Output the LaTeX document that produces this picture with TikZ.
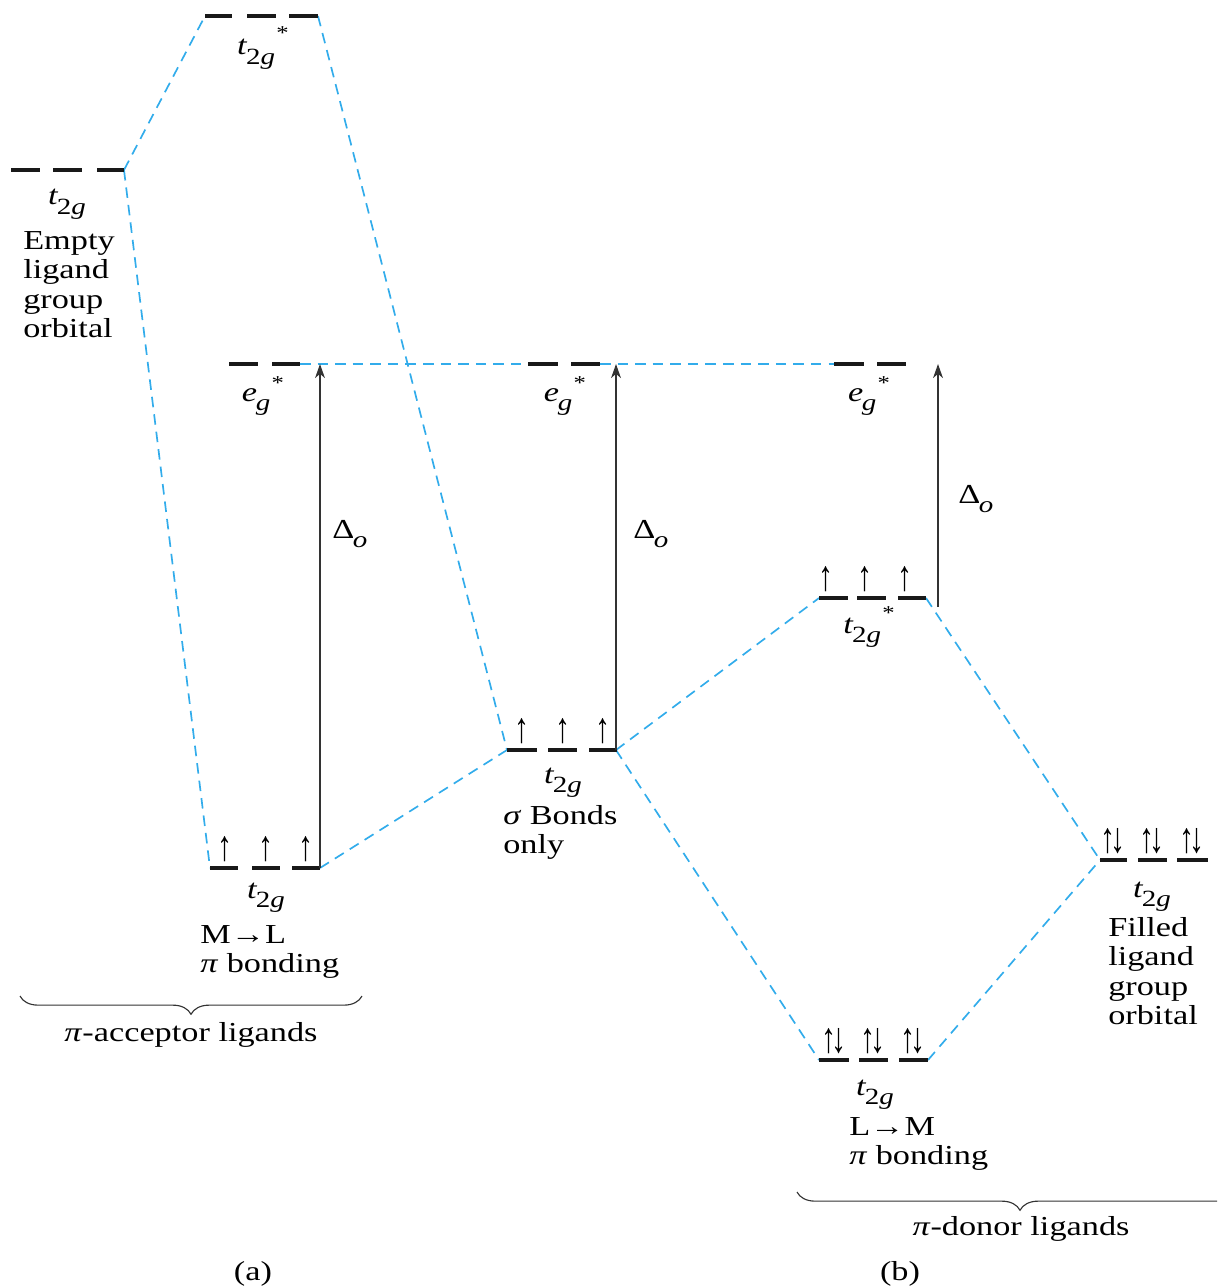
\documentclass[tikz,border=0pt]{standalone}
\usepackage{fontspec}
\setmainfont{Liberation Serif}[FakeStretch=1.25]
\usetikzlibrary{arrows.meta,decorations.pathreplacing}

\definecolor{lineblue}{RGB}{50,172,235}
\newcommand\tsub[1]{\kern-1pt\lower7pt\hbox{\fontsize{16.5}{16.5}\selectfont#1}}
\newcommand\ttwog{\textit{t}\tsub{2\textit{g}}}
\newcommand\egee{\textit{e}\tsub{\textit{g}}}
\newcommand\st[1]{\kern1pt\raisebox{#1}{\fontsize{14}{14}\selectfont*}}
\newcommand\upspin{\scalebox{0.9}[1.6]{↑}}
\newcommand\pairup{\scalebox{0.9}[1.6]{↑\kern-0.2em↓}}

\begin{document}
\begin{tikzpicture}[x=0.025cm,y=-0.025cm,
    every node/.style={inner sep=0pt,font=\fontsize{19.5}{21}\selectfont},
    level/.style={line width=2.2pt,black!90},
    link/.style={lineblue,line width=1.2pt,dash pattern=on 7.5pt off 5pt},
    gap/.style={-{Stealth[length=10pt,width=7pt,inset=3pt]},line width=1pt,black!80},
    spin/.style={anchor=south,font=\fontsize{19}{19}\selectfont},
    brace/.style={decorate,decoration={brace,mirror,amplitude=13pt},line width=0.8pt,black!80}]
  \useasboundingbox (0,0) rectangle (1217,1287);
  \clip (0,0) rectangle (1217,1287);

  % ends of the levels
  \coordinate (topL) at (205,16);   \coordinate (topR) at (318,16);
  \coordinate (ligR) at (124,170);
  \coordinate (egLr) at (300,364);  \coordinate (egMl) at (528,364);
  \coordinate (egMr) at (600,364);  \coordinate (egRl) at (834,364);
  \coordinate (mlL) at (210,868);   \coordinate (mlR) at (320,868);
  \coordinate (sgL) at (507,750);   \coordinate (sgR) at (616,750);
  \coordinate (tsL) at (819,598);   \coordinate (tsR) at (926,598);
  \coordinate (lmL) at (819,1060);  \coordinate (lmR) at (928,1060);
  \coordinate (fiL) at (1100,860);
  \coordinate (dR) at (938,607);

  % correlation lines
  \draw[link] (ligR) -- (topL);
  \draw[link] (ligR) -- (mlL);
  \draw[link] (topR) -- (sgL);
  \draw[link] (mlR) -- (sgL);
  \draw[link] (sgR) -- (tsL);
  \draw[link] (sgR) -- (lmL);
  \draw[link] (tsR) -- (fiL);
  \draw[link] (lmR) -- (fiL);
  \draw[link] (egLr) -- (egMl);
  \draw[link] (egMr) -- (egRl);

  % the levels
  \foreach \a/\b in {205/232,247/276,289/318} \draw[level] (\a,16) -- (\b,16);
  \foreach \a/\b in {11/40,53/82,97/124} \draw[level] (\a,170) -- (\b,170);
  \foreach \a/\b in {229/258,272/300,528/558,571/600,834/864,877/906} \draw[level] (\a,364) -- (\b,364);
  \foreach \a/\b in {210/238,252/280,292/320} \draw[level] (\a,868) -- (\b,868);
  \foreach \a/\b in {507/537,548/577,589/617} \draw[level] (\a,750) -- (\b,750);
  \foreach \a/\b in {819/848,857/886,898/926} \draw[level] (\a,598) -- (\b,598);
  \foreach \a/\b in {819/849,859/888,899/928} \draw[level] (\a,1060) -- (\b,1060);
  \foreach \a/\b in {1100/1127,1138/1167,1177/1208} \draw[level] (\a,860) -- (\b,860);

  % splitting arrows
  \draw[gap] (mlR) -- (mlR |- egLr);
  \draw[gap] (sgR) -- (sgR |- egMr);
  \draw[gap] (dR) -- (dR |- egRl);
  \node[anchor=base west] (dlL) at (332,538) {Δ\tsub{\textit{o}}};
  \node[anchor=base west] (dlM) at (633,538) {Δ\tsub{\textit{o}}};
  \node[anchor=base west] (dlR) at (958,503) {Δ\tsub{\textit{o}}};

  % electrons
  \foreach \x in {225,266,306} \node[spin] (ml-\x) at (\x,862) {\upspin};
  \foreach \x in {522,563,603} \node[spin] (sg-\x) at (\x,744) {\upspin};
  \foreach \x in {826,865,905} \node[spin] (ts-\x) at (\x,592) {\upspin};
  \foreach \x in {834,873,913} \node[spin] (lm-\x) at (\x,1054) {\pairup};
  \foreach \x in {1113,1152,1192} \node[spin] (fi-\x) at (\x,854) {\pairup};

  % level labels
  \node[anchor=base] (lbTop) at (263,55) {\ttwog\st{11pt}};
  \node[anchor=base] (lbLig) at (67,205) {\ttwog};
  \node[anchor=base] (lbEgL) at (263,401) {\egee\st{8.5pt}};
  \node[anchor=base] (lbEgM) at (565,401) {\egee\st{8.5pt}};
  \node[anchor=base] (lbEgR) at (869,401) {\egee\st{8.5pt}};
  \node[anchor=base] (lbMl) at (266,898) {\ttwog};
  \node[anchor=base] (lbSg) at (563,783) {\ttwog};
  \node[anchor=base] (lbTs) at (869,633) {\ttwog\st{9.5pt}};
  \node[anchor=base] (lbLm) at (875,1095) {\ttwog};
  \node[anchor=base] (lbFi) at (1152,897) {\ttwog};

  \node[anchor=north west,align=left] (txLig) at (23,231) {Empty\\ligand\\group\\orbital};
  \node[anchor=north west,align=left] (txMl) at (200,925) {M→L\\\textit{π} bonding};
  \node[anchor=north west,align=left] (txSg) at (503,805) {\textit{σ} Bonds\\only};
  \node[anchor=north west,align=left] (txLm) at (849,1117) {L→M\\\textit{π} bonding};
  \node[anchor=north west,align=left] (txFi) at (1108,917) {Filled\\ligand\\group\\orbital};

  % braces
  \coordinate (bAl) at (20,996);  \coordinate (bAr) at (362,996);
  \coordinate (bBl) at (797,1192); \coordinate (bBr) at (1243,1192);
  \draw[brace] (bAl) -- (bAr);
  \draw[brace] (bBl) -- (bBr);
  \node[anchor=base] (acc) at (191,1041) {\textit{π}-acceptor ligands};
  \node[anchor=base] (don) at (1021,1235) {\textit{π}-donor ligands};
  \node[anchor=base] (pa) at (253,1280) {(a)};
  \node[anchor=base] (pb) at (900,1280) {(b)};
\end{tikzpicture}
\end{document}
